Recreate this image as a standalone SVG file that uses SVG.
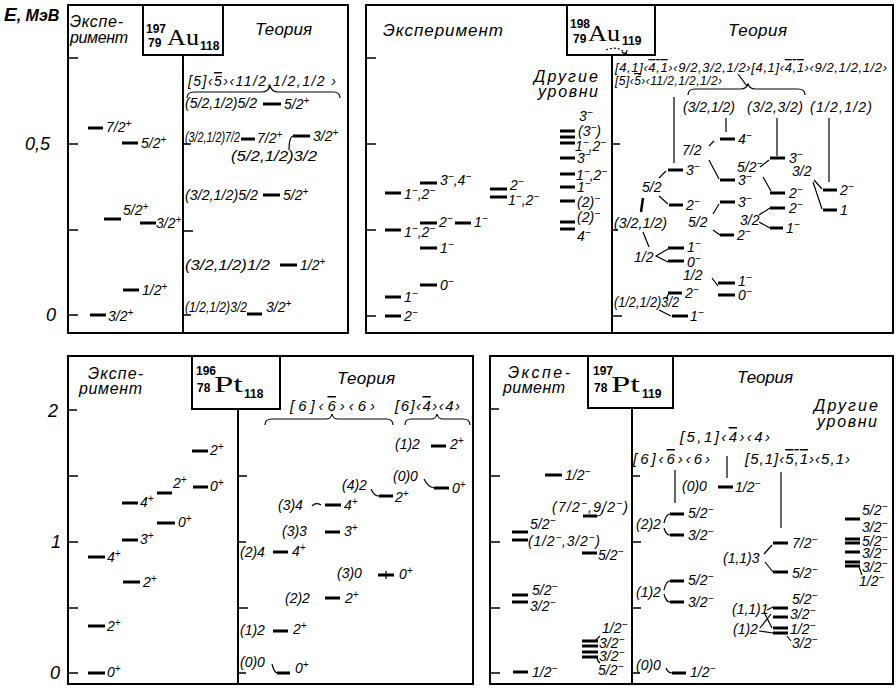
<svg xmlns="http://www.w3.org/2000/svg" width="896" height="690" viewBox="0 0 896 690">
<style>
text{font-family:"Liberation Sans",Arial,sans-serif;font-style:italic;font-size:14px;fill:#000}
.h{font-size:17px}
.hd{font-size:16px}
.sm{font-size:13px}
.iso{font-family:"Liberation Serif","Times New Roman",serif;font-style:normal;font-size:24px}
.n{font-style:normal;font-weight:bold;font-size:12px}
.s{font-size:10px;baseline-shift:super}
.o{text-decoration:overline}
.ax{font-size:18px}
.lv{stroke:#000;stroke-width:3}
.bx{fill:none;stroke:#000;stroke-width:2}
.tk{fill:none;stroke:#000;stroke-width:1.5}
.c{fill:none;stroke:#000;stroke-width:1.2}
</style>
<rect width="896" height="690" fill="#fff"/>

<!-- axis labels -->
<g id="axis">
<text x="4" y="21" style="font-size:16px;font-weight:bold"><tspan style="font-size:19px">E</tspan>, МэВ</text>
<text class="ax" x="25" y="150">0,5</text>
<text class="ax" x="46" y="321">0</text>
<text class="ax" x="48" y="417">2</text>
<text class="ax" x="51" y="548">1</text>
<text class="ax" x="50" y="679">0</text>
</g>

<!-- ========== Panel 197Au ========== -->
<g id="panel-au197">
<rect class="bx" x="68" y="5" width="280" height="328"/>
<rect class="bx" x="143" y="5" width="80" height="50"/>
<line class="bx" x1="183" y1="55" x2="183" y2="333"/>
<path class="tk" d="M68,58h10M68,144h10M68,230h10M68,315h10M183,144h8M183,231h10M183,315h8"/>
<text class="hd" x="70" y="27" textLength="53">Экспе-</text>
<text class="hd" x="70" y="43" textLength="58">римент</text>
<text class="h" x="255" y="35" textLength="57">Теория</text>
<text class="n" x="146" y="33">197</text>
<text class="n" x="148" y="47">79</text>
<text class="iso" x="167" y="45" textLength="32" lengthAdjust="spacingAndGlyphs">Au</text>
<text class="n" x="200" y="50">118</text>
<text x="188" y="86" textLength="148">[5]‹<tspan class="o">5</tspan>›‹11/2,1/2,1/2 ›</text>
</g>
<g id="au197-e1"><line class="lv" x1="88" y1="128" x2="103" y2="128"/><text x="106" y="132">7/2<tspan class="s">+</tspan></text></g>
<g id="au197-e2"><line class="lv" x1="122" y1="143" x2="138" y2="143"/><text x="141" y="148">5/2<tspan class="s">+</tspan></text></g>
<g id="au197-e3"><line class="lv" x1="104" y1="219" x2="121" y2="219"/><text x="123" y="215">5/2<tspan class="s">+</tspan></text></g>
<g id="au197-e4"><line class="lv" x1="140" y1="223" x2="156" y2="223"/><text x="156" y="228">3/2<tspan class="s">+</tspan></text></g>
<g id="au197-e5"><line class="lv" x1="123" y1="290" x2="139" y2="290"/><text x="142" y="295">1/2<tspan class="s">+</tspan></text></g>
<g id="au197-e6"><line class="lv" x1="90" y1="315" x2="106" y2="315"/><text x="108" y="321">3/2<tspan class="s">+</tspan></text></g>
<g id="au197-t1"><text x="185" y="108" textLength="72" lengthAdjust="spacingAndGlyphs">(5/2,1/2)5/2</text><line class="lv" x1="263" y1="104" x2="281" y2="104"/><text x="284" y="109">5/2<tspan class="s">+</tspan></text></g>
<g id="au197-t2"><text x="185" y="142" textLength="55" lengthAdjust="spacingAndGlyphs">(3/2,1/2)7/2</text><line class="lv" x1="241" y1="139" x2="255" y2="139"/><text x="257" y="143">7/2<tspan class="s">+</tspan></text></g>
<g id="au197-t3"><text x="231" y="161" textLength="86" lengthAdjust="spacingAndGlyphs">(5/2,1/2)3/2</text><line class="lv" x1="293" y1="136" x2="310" y2="136"/><text x="313" y="141">3/2<tspan class="s">+</tspan></text></g>
<g id="au197-t4"><text x="185" y="200" textLength="73" lengthAdjust="spacingAndGlyphs">(3/2,1/2)5/2</text><line class="lv" x1="263" y1="195" x2="280" y2="195"/><text x="283" y="200">5/2<tspan class="s">+</tspan></text></g>
<g id="au197-t5"><text x="185" y="270" textLength="85" lengthAdjust="spacingAndGlyphs">(3/2,1/2)1/2</text><line class="lv" x1="280" y1="265" x2="297" y2="265"/><text x="300" y="270">1/2<tspan class="s">+</tspan></text></g>
<g id="au197-t6"><text x="185" y="312" textLength="62" lengthAdjust="spacingAndGlyphs">(1/2,1/2)3/2</text><line class="lv" x1="247" y1="314" x2="262" y2="314"/><text x="266" y="312">3/2<tspan class="s">+</tspan></text></g>

<!-- ========== Panel 198Au ========== -->
<g id="panel-au198">
<rect class="bx" x="366" y="5" width="527" height="328"/>
<rect class="bx" x="567" y="5" width="88" height="50"/>
<line class="bx" x1="612" y1="55" x2="612" y2="333"/>
<path class="tk" d="M366,58h10M366,144h10M366,230h10M366,316h10M612,144h8M612,230h6M612,316h10"/>
<text class="h" x="383" y="36" textLength="120">Эксперимент</text>
<text class="h" x="728" y="36" textLength="59">Теория</text>
<text class="hd" x="534" y="82" textLength="64">Другие</text>
<text class="hd" x="538" y="97" textLength="60">уровни</text>
<text class="n" x="570" y="28">198</text>
<text class="n" x="573" y="43">79</text>
<text class="iso" x="588" y="41" textLength="32" lengthAdjust="spacingAndGlyphs">Au</text>
<text class="n" x="622" y="45">119</text>
<text class="sm" x="615" y="72" textLength="272">[4,1]‹<tspan class="o">4,1</tspan>›‹9/2,3/2,1/2›[4,1]‹<tspan class="o">4,1</tspan>›‹9/2,1/2,1/2›</text>
<text style="font-size:12px" x="615" y="85" textLength="107">[5]‹<tspan class="o">5</tspan>›‹11/2,1/2,1/2›</text>
<text x="683" y="112" textLength="52">(3/2,1/2)</text>
<text x="747" y="112" textLength="56">(3/2,3/2)</text>
<text x="810" y="112" textLength="62">(1/2,1/2)</text>
<text x="682" y="155">7/2</text>
<text x="737" y="172">5/2<tspan class="s">−</tspan></text>
<text x="792" y="176">3/2</text>
<text x="642" y="192">5/2</text>
<text x="688" y="227">5/2</text>
<text x="740" y="225">3/2</text>
<text x="614" y="228" textLength="53" lengthAdjust="spacingAndGlyphs">(3/2,1/2)</text>
<text x="634" y="262">1/2</text>
<text x="683" y="280">1/2</text>
<text x="614" y="307" textLength="65" lengthAdjust="spacingAndGlyphs">(1/2,1/2)3/2</text>
</g>
<g id="au198-e1"><line class="lv" x1="385" y1="193" x2="401" y2="193"/><text x="404" y="199">1<tspan class="s">−</tspan>,2<tspan class="s">−</tspan></text></g>
<g id="au198-e2"><line class="lv" x1="420" y1="183" x2="437" y2="183"/><text x="440" y="185">3<tspan class="s">−</tspan>,4<tspan class="s">−</tspan></text></g>
<g id="au198-e3"><line class="lv" x1="490" y1="189" x2="507" y2="189"/><line class="lv" x1="490" y1="197" x2="507" y2="197"/><text x="510" y="190">2<tspan class="s">−</tspan></text><text x="508" y="205">1<tspan class="s">−</tspan>,2<tspan class="s">−</tspan></text></g>
<g id="au198-e4"><line class="lv" x1="385" y1="230" x2="401" y2="230"/><text x="404" y="237">1<tspan class="s">−</tspan>,2<tspan class="s">−</tspan></text></g>
<g id="au198-e5"><line class="lv" x1="420" y1="223" x2="437" y2="223"/><text x="439" y="227">2<tspan class="s">−</tspan></text></g>
<g id="au198-e6"><line class="lv" x1="455" y1="223" x2="471" y2="223"/><text x="474" y="227">1<tspan class="s">−</tspan></text></g>
<g id="au198-e7"><line class="lv" x1="420" y1="248" x2="437" y2="248"/><text x="440" y="253">1<tspan class="s">−</tspan></text></g>
<g id="au198-e8"><line class="lv" x1="420" y1="285" x2="437" y2="285"/><text x="440" y="290">0<tspan class="s">−</tspan></text></g>
<g id="au198-e9"><line class="lv" x1="385" y1="297" x2="401" y2="297"/><text x="404" y="302">1<tspan class="s">−</tspan></text></g>
<g id="au198-e10"><line class="lv" x1="385" y1="316" x2="401" y2="316"/><text x="404" y="321">2<tspan class="s">−</tspan></text></g>
<g id="au198-o1"><text x="579" y="121">3<tspan class="s">−</tspan></text><line class="lv" x1="560" y1="131" x2="575" y2="131"/><line class="lv" x1="560" y1="137" x2="575" y2="137"/><line class="lv" x1="560" y1="143" x2="575" y2="143"/><text x="578" y="136">(3<tspan class="s">−</tspan>)</text><text x="575" y="151">1<tspan class="s">−</tspan>,2<tspan class="s">−</tspan></text></g>
<g id="au198-o2"><line class="lv" x1="560" y1="158" x2="575" y2="158"/><text x="577" y="163">3<tspan class="s">−</tspan></text></g>
<g id="au198-o3"><line class="lv" x1="560" y1="174" x2="575" y2="174"/><text x="576" y="180">1<tspan class="s">−</tspan>,2<tspan class="s">−</tspan></text></g>
<g id="au198-o4"><line class="lv" x1="560" y1="187" x2="575" y2="187"/><text x="577" y="192">1<tspan class="s">−</tspan></text></g>
<g id="au198-o5"><line class="lv" x1="560" y1="201" x2="575" y2="201"/><text x="577" y="207">(2)<tspan class="s">−</tspan></text></g>
<g id="au198-o6"><line class="lv" x1="560" y1="222" x2="575" y2="222"/><line class="lv" x1="560" y1="229" x2="575" y2="229"/><text x="577" y="222">(2)<tspan class="s">−</tspan></text><text x="577" y="241">4<tspan class="s">−</tspan></text></g>
<g id="au198-t1"><line class="lv" x1="720" y1="139" x2="735" y2="139"/><text x="738" y="144">4<tspan class="s">−</tspan></text></g>
<g id="au198-t2"><line class="lv" x1="770" y1="158" x2="785" y2="158"/><text x="789" y="163">3<tspan class="s">−</tspan></text></g>
<g id="au198-t3"><line class="lv" x1="668" y1="170" x2="683" y2="170"/><text x="686" y="175">3<tspan class="s">−</tspan></text></g>
<g id="au198-t4"><line class="lv" x1="720" y1="180" x2="735" y2="180"/><text x="738" y="185">3<tspan class="s">−</tspan></text></g>
<g id="au198-t5"><line class="lv" x1="770" y1="193" x2="785" y2="193"/><text x="789" y="198">2<tspan class="s">−</tspan></text></g>
<g id="au198-t6"><line class="lv" x1="823" y1="190" x2="837" y2="190"/><text x="840" y="195">2<tspan class="s">−</tspan></text></g>
<g id="au198-t7"><line class="lv" x1="823" y1="210" x2="837" y2="210"/><text x="840" y="215">1</text></g>
<g id="au198-t8"><line class="lv" x1="669" y1="205" x2="683" y2="205"/><text x="686" y="210">2<tspan class="s">−</tspan></text></g>
<g id="au198-t9"><line class="lv" x1="720" y1="202" x2="735" y2="202"/><text x="738" y="207">3<tspan class="s">−</tspan></text></g>
<g id="au198-t10"><line class="lv" x1="770" y1="208" x2="785" y2="208"/><text x="789" y="213">2<tspan class="s">−</tspan></text></g>
<g id="au198-t11"><line class="lv" x1="770" y1="228" x2="783" y2="228"/><text x="786" y="233">1<tspan class="s">−</tspan></text></g>
<g id="au198-t12"><line class="lv" x1="720" y1="235" x2="734" y2="235"/><text x="737" y="240">2<tspan class="s">−</tspan></text></g>
<g id="au198-t13"><line class="lv" x1="668" y1="248" x2="684" y2="248"/><line class="lv" x1="668" y1="261" x2="684" y2="261"/><text x="687" y="252">1<tspan class="s">−</tspan></text><text x="687" y="267">0<tspan class="s">−</tspan></text></g>
<g id="au198-t14"><line class="lv" x1="718" y1="283" x2="735" y2="283"/><line class="lv" x1="718" y1="295" x2="735" y2="295"/><text x="738" y="286">1<tspan class="s">−</tspan></text><text x="738" y="300">0<tspan class="s">−</tspan></text></g>
<g id="au198-t15"><line class="lv" x1="668" y1="293" x2="682" y2="293"/><text x="685" y="298">2<tspan class="s">−</tspan></text></g>
<g id="au198-t16"><line class="lv" x1="672" y1="316" x2="688" y2="316"/><text x="690" y="321">1<tspan class="s">−</tspan></text></g>

<!-- ========== Panel 196Pt ========== -->
<g id="panel-pt196">
<rect class="bx" x="68" y="356" width="405" height="328"/>
<rect class="bx" x="192" y="356" width="88" height="53"/>
<line class="bx" x1="238" y1="409" x2="238" y2="684"/>
<path class="tk" d="M68,410h9M68,476h10M68,542h10M68,608h10M68,673h10M238,476h9M238,542h8M238,608h10M238,673h8"/>
<text class="hd" x="88" y="379" textLength="55">Экспе-</text>
<text class="hd" x="79" y="394" textLength="63">римент</text>
<text class="h" x="337" y="384" textLength="58">Теория</text>
<text class="n" x="196" y="375">196</text>
<text class="n" x="197" y="392">78</text>
<text class="iso" x="214" y="392" textLength="29" lengthAdjust="spacingAndGlyphs">Pt</text>
<text class="n" x="244" y="398">118</text>
<text style="font-size:15px" x="290" y="411" textLength="85">[6]‹<tspan class="o">6</tspan>›‹6›</text>
<text style="font-size:15px" x="395" y="411" textLength="65">[6]‹<tspan class="o">4</tspan>›‹4›</text>
</g>
<g id="pt196-e1"><line class="lv" x1="88" y1="673" x2="105" y2="673"/><text x="107" y="677">0<tspan class="s">+</tspan></text></g>
<g id="pt196-e2"><line class="lv" x1="88" y1="626" x2="105" y2="626"/><text x="107" y="631">2<tspan class="s">+</tspan></text></g>
<g id="pt196-e3"><line class="lv" x1="88" y1="557" x2="105" y2="557"/><text x="107" y="562">4<tspan class="s">+</tspan></text></g>
<g id="pt196-e4"><line class="lv" x1="123" y1="582" x2="140" y2="582"/><text x="143" y="587">2<tspan class="s">+</tspan></text></g>
<g id="pt196-e5"><line class="lv" x1="122" y1="540" x2="138" y2="540"/><text x="140" y="544">3<tspan class="s">+</tspan></text></g>
<g id="pt196-e6"><line class="lv" x1="122" y1="503" x2="138" y2="503"/><text x="140" y="507">4<tspan class="s">+</tspan></text></g>
<g id="pt196-e7"><line class="lv" x1="157" y1="493" x2="172" y2="493"/><text x="173" y="488">2<tspan class="s">+</tspan></text></g>
<g id="pt196-e8"><line class="lv" x1="157" y1="523" x2="175" y2="523"/><text x="178" y="527">0<tspan class="s">+</tspan></text></g>
<g id="pt196-e9"><line class="lv" x1="192" y1="451" x2="208" y2="451"/><text x="210" y="455">2<tspan class="s">+</tspan></text></g>
<g id="pt196-e10"><line class="lv" x1="193" y1="487" x2="208" y2="487"/><text x="210" y="491">0<tspan class="s">+</tspan></text></g>
<g id="pt196-t1"><text x="395" y="449">(1)2</text><line class="lv" x1="431" y1="446" x2="446" y2="446"/><text x="450" y="449">2<tspan class="s">+</tspan></text></g>
<g id="pt196-t2"><text x="393" y="481">(0)0</text><line class="lv" x1="434" y1="488" x2="449" y2="488"/><text x="452" y="493">0<tspan class="s">+</tspan></text></g>
<g id="pt196-t3"><text x="342" y="490">(4)2</text><line class="lv" x1="379" y1="496" x2="393" y2="496"/><text x="395" y="502">2<tspan class="s">+</tspan></text></g>
<g id="pt196-t4"><text x="278" y="510">(3)4</text><line class="lv" x1="325" y1="505" x2="341" y2="505"/><text x="344" y="510">4<tspan class="s">+</tspan></text></g>
<g id="pt196-t5"><text x="282" y="536">(3)3</text><line class="lv" x1="325" y1="532" x2="340" y2="532"/><text x="344" y="536">3<tspan class="s">+</tspan></text></g>
<g id="pt196-t6"><text x="240" y="557">(2)4</text><line class="lv" x1="273" y1="552" x2="288" y2="552"/><text x="292" y="556">4<tspan class="s">+</tspan></text></g>
<g id="pt196-t7"><text x="337" y="578">(3)0</text><line class="lv" x1="378" y1="575" x2="394" y2="575"/><text x="399" y="579">0<tspan class="s">+</tspan></text></g>
<g id="pt196-t8"><text x="285" y="603">(2)2</text><line class="lv" x1="325" y1="598" x2="340" y2="598"/><text x="345" y="603">2<tspan class="s">+</tspan></text></g>
<g id="pt196-t9"><text x="240" y="635">(1)2</text><line class="lv" x1="273" y1="631" x2="288" y2="631"/><text x="293" y="634">2<tspan class="s">+</tspan></text></g>
<g id="pt196-t10"><text x="240" y="667">(0)0</text><line class="lv" x1="277" y1="673" x2="290" y2="673"/><text x="295" y="673">0<tspan class="s">+</tspan></text></g>

<!-- ========== Panel 197Pt ========== -->
<g id="panel-pt197">
<rect class="bx" x="490" y="356" width="403" height="328"/>
<rect class="bx" x="588" y="356" width="85" height="52"/>
<line class="bx" x1="632" y1="408" x2="632" y2="684"/>
<path class="tk" d="M490,409h9M490,476h10M490,542h10M490,608h10M490,673h10M632,476h8M632,542h9M632,608h9M632,673h8"/>
<text class="hd" x="508" y="378" textLength="62">Экспе-</text>
<text class="hd" x="503" y="393" textLength="62">римент</text>
<text class="h" x="737" y="383" textLength="56">Теория</text>
<text class="hd" x="814" y="411" textLength="64">Другие</text>
<text class="hd" x="817" y="427" textLength="60">уровни</text>
<text class="n" x="593" y="375">197</text>
<text class="n" x="594" y="392">78</text>
<text class="iso" x="611" y="392" textLength="29" lengthAdjust="spacingAndGlyphs">Pt</text>
<text class="n" x="642" y="398">119</text>
<text style="font-size:15px" x="680" y="442" textLength="90">[5,1]‹<tspan class="o">4</tspan>›‹4›</text>
<text style="font-size:15px" x="633" y="464" textLength="77">[6]‹<tspan class="o">6</tspan>›‹6›</text>
<text style="font-size:15px" x="745" y="464" textLength="105">[5,1]‹<tspan class="o">5,1</tspan>›‹5,1›</text>
</g>
<g id="pt197-e1"><line class="lv" x1="545" y1="475" x2="562" y2="475"/><text x="565" y="480">1/2<tspan class="s">−</tspan></text></g>
<g id="pt197-e2"><text x="552" y="512" textLength="76">(7/2<tspan class="s">−</tspan>,9/2<tspan class="s">−</tspan>)</text><line class="lv" x1="583" y1="516" x2="597" y2="516"/></g>
<g id="pt197-e3"><line class="lv" x1="512" y1="532" x2="528" y2="532"/><line class="lv" x1="512" y1="540" x2="528" y2="540"/><text x="530" y="529">5/2<tspan class="s">−</tspan></text><text x="528" y="546" textLength="72">(1/2<tspan class="s">−</tspan>,3/2<tspan class="s">−</tspan>)</text></g>
<g id="pt197-e4"><line class="lv" x1="582" y1="553" x2="597" y2="553"/><text x="598" y="560">5/2<tspan class="s">−</tspan></text></g>
<g id="pt197-e5"><line class="lv" x1="512" y1="595" x2="528" y2="595"/><line class="lv" x1="512" y1="602" x2="528" y2="602"/><text x="532" y="595">5/2<tspan class="s">−</tspan></text><text x="530" y="611">3/2<tspan class="s">−</tspan></text></g>
<g id="pt197-e6"><line class="lv" x1="513" y1="672" x2="528" y2="672"/><text x="532" y="677">1/2<tspan class="s">−</tspan></text></g>
<g id="pt197-e7"><line class="lv" x1="582" y1="641" x2="598" y2="641"/><line class="lv" x1="582" y1="646" x2="598" y2="646"/><line class="lv" x1="582" y1="652" x2="598" y2="652"/><line class="lv" x1="582" y1="657" x2="598" y2="657"/><text x="602" y="633">1/2<tspan class="s">−</tspan></text><text x="599" y="648">3/2<tspan class="s">−</tspan></text><text x="599" y="661">3/2<tspan class="s">−</tspan></text><text x="598" y="675">5/2<tspan class="s">−</tspan></text></g>
<g id="pt197-t1"><text x="682" y="491">(0)0</text><line class="lv" x1="718" y1="487" x2="733" y2="487"/><text x="735" y="492">1/2<tspan class="s">−</tspan></text></g>
<g id="pt197-t2"><text x="636" y="529">(2)2</text><line class="lv" x1="670" y1="514" x2="684" y2="514"/><line class="lv" x1="670" y1="535" x2="684" y2="535"/><text x="688" y="518">5/2<tspan class="s">−</tspan></text><text x="688" y="540">3/2<tspan class="s">−</tspan></text></g>
<g id="pt197-t3"><text x="723" y="563">(1,1)3</text><line class="lv" x1="773" y1="543" x2="788" y2="543"/><line class="lv" x1="773" y1="572" x2="788" y2="572"/><text x="792" y="548">7/2<tspan class="s">−</tspan></text><text x="792" y="578">5/2<tspan class="s">−</tspan></text></g>
<g id="pt197-t4"><text x="636" y="597">(1)2</text><line class="lv" x1="670" y1="581" x2="684" y2="581"/><line class="lv" x1="670" y1="602" x2="684" y2="602"/><text x="688" y="585">5/2<tspan class="s">−</tspan></text><text x="688" y="607">3/2<tspan class="s">−</tspan></text></g>
<g id="pt197-t5"><text x="732" y="614">(1,1)1</text><text x="733" y="634">(1)2</text><line class="lv" x1="773" y1="608" x2="788" y2="608"/><line class="lv" x1="773" y1="617" x2="788" y2="617"/><line class="lv" x1="773" y1="628" x2="788" y2="628"/><line class="lv" x1="773" y1="633" x2="788" y2="633"/><text x="792" y="604">5/2<tspan class="s">−</tspan></text><text x="790" y="619">3/2<tspan class="s">−</tspan></text><text x="790" y="634">1/2<tspan class="s">−</tspan></text><text x="792" y="648">3/2<tspan class="s">−</tspan></text></g>
<g id="pt197-t6"><text x="636" y="670">(0)0</text><line class="lv" x1="672" y1="673" x2="686" y2="673"/><text x="690" y="677">1/2<tspan class="s">−</tspan></text></g>
<g id="pt197-o1"><line class="lv" x1="845" y1="519" x2="860" y2="519"/><line class="lv" x1="845" y1="539" x2="860" y2="539"/><line class="lv" x1="845" y1="543" x2="860" y2="543"/><line class="lv" x1="845" y1="552" x2="860" y2="552"/><line class="lv" x1="845" y1="562" x2="860" y2="562"/><line class="lv" x1="845" y1="566" x2="860" y2="566"/><text x="862" y="515">5/2<tspan class="s">−</tspan></text><text x="862" y="532">3/2<tspan class="s">−</tspan></text><text x="862" y="546">5/2<tspan class="s">−</tspan></text><text x="862" y="558">3/2<tspan class="s">−</tspan></text><text x="862" y="572">3/2<tspan class="s">−</tspan></text><text x="859" y="586">1/2<tspan class="s">−</tspan></text></g>

<!-- ========== Connectors ========== -->
<g id="connectors">
<path class="c" d="M187,98 Q187,92 194,92 L262,92 Q268,92 270,86 Q272,92 278,92 L333,92 Q340,92 340,98"/>
<path class="c" d="M289,150 Q289,137 293,136"/>
<path class="c" d="M688,95 Q688,89 695,89 L741,89 Q746,89 748,84 Q750,89 755,89 L798,89 Q805,89 805,95"/>
<path class="c" d="M738,74 L747,86"/>
<path class="c" stroke-dasharray="2,2" d="M606,50 Q618,45 626,54"/>
<path class="c" d="M622,52 L626,55 L627,50"/>
<path class="c" d="M674,97 V163M726,118 V132M777,118 V156M829,118 V182"/>
<path class="c" d="M709,146 L714,141M709,160 L719,179M760,167 L769,160M763,177 L771,191"/>
<path class="c" d="M814,180 L822,189M813,182 L822,209"/>
<path class="c" d="M659,178 L666,171M659,196 L668,204"/>
<path fill="none" stroke="#000" stroke-width="2.5" d="M643,198 L641,212"/>
<path class="c" d="M643,232 L649,247M668,249 L656,256 L668,262M712,278 L718,286"/>
<path class="c" d="M713,214 L719,204M713,230 L720,235M759,215 L770,208M759,222 L770,228"/>
<path class="c" d="M666,299 L669,293M659,310 L671,316"/>
<path class="c" d="M265,425 Q265,419 272,419 L326,419 Q331,419 332,414 Q333,419 338,419 L386,419 Q393,419 393,425"/>
<path class="c" d="M405,425 Q405,419 411,419 L431,419 Q436,419 437,414 Q438,419 443,419 L463,419 Q470,419 470,425"/>
<path class="c" d="M424,479 Q428,487 434,488M371,489 Q374,496 379,496M312,506 Q316,502 321,505M272,664 Q274,672 277,673M386,571 V579"/>
<path class="c" d="M727,456 V478M675,470 V503M781,472 V528"/>
<path class="c" d="M664,523 Q666,514 670,514M664,528 Q666,535 670,535M664,590 Q666,581 670,581M664,594 Q666,602 670,602"/>
<path class="c" d="M764,554 L772,545M765,562 L773,572"/>
<path class="c" d="M767,610 L773,607M760,628 L771,614M764,612 L772,628M759,631 L773,633M787,636 L791,641M666,668 Q668,673 672,673"/>
<path class="c" d="M597,516 Q602,516 603,510M595,641 L600,636M597,657 Q597,661 600,663M859,567 L862,575"/>
</g>
</svg>
